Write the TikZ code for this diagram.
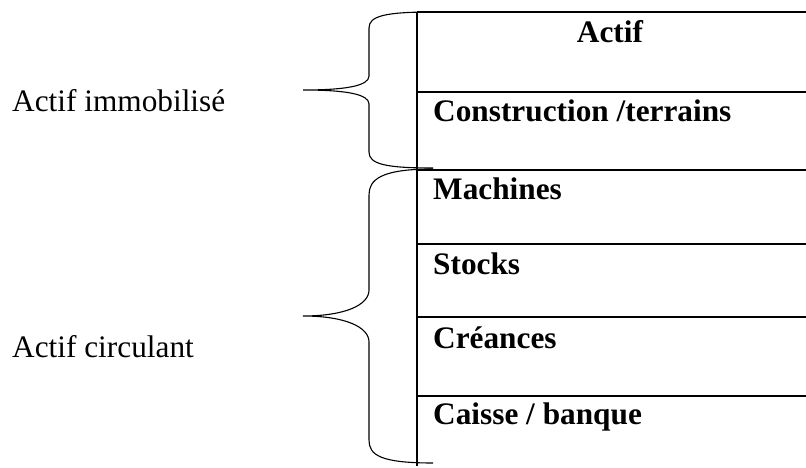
\documentclass[tikz,border=0pt]{standalone}
\usepackage{fontspec}
\setmainfont{Liberation Serif}
\begin{document}
\begin{tikzpicture}[x=1pt,y=-1pt,
  lbl/.style={inner sep=0pt, anchor=base west, font=\fontsize{31.3}{36}\selectfont},
  cell/.style={lbl, font=\fontsize{31.3}{36}\selectfont\bfseries},
  rule/.style={line width=1.5pt},
  bracepath/.style={line width=1.1pt}]
\useasboundingbox (0,0) rectangle (806,468);

% balance sheet column: left rule and row separators
\draw[rule] (417,12) -- (417,466);
\foreach \y in {12,92,170,244,317,396}
  \draw[rule] (417,\y) -- (806,\y);

% row entries
\node[cell, anchor=base] (head) at (610,43) {Actif};
\node[cell] (c1) at (433,122) {Construction /terrains};
\node[cell] (c2) at (433,200) {Machines};
\node[cell] (c3) at (433,274) {Stocks};
\node[cell] (c4) at (433,348) {Créances};
\node[cell] (c5) at (433,424) {Caisse / banque};

% group labels
\node[lbl] (immo) at (12,112) {Actif immobilisé};
\node[lbl] (circ) at (12,357) {Actif circulant};

% brace for fixed assets
\draw[bracepath] (433,12) .. controls (385,12) and (369,16) .. (369,28)
  -- (369,76) .. controls (369,86) and (345,90) .. (303,90)
  .. controls (345,90) and (369,94) .. (369,104)
  -- (369,152) .. controls (369,164) and (385,168) .. (433,168);

% brace for current assets
\draw[bracepath] (433,169) .. controls (380,169) and (369,180) .. (369,195)
  -- (369,290) .. controls (369,305) and (345,316) .. (303,316)
  .. controls (345,316) and (369,327) .. (369,342)
  -- (369,440) .. controls (369,455) and (380,463) .. (433,463);
\end{tikzpicture}
\end{document}
